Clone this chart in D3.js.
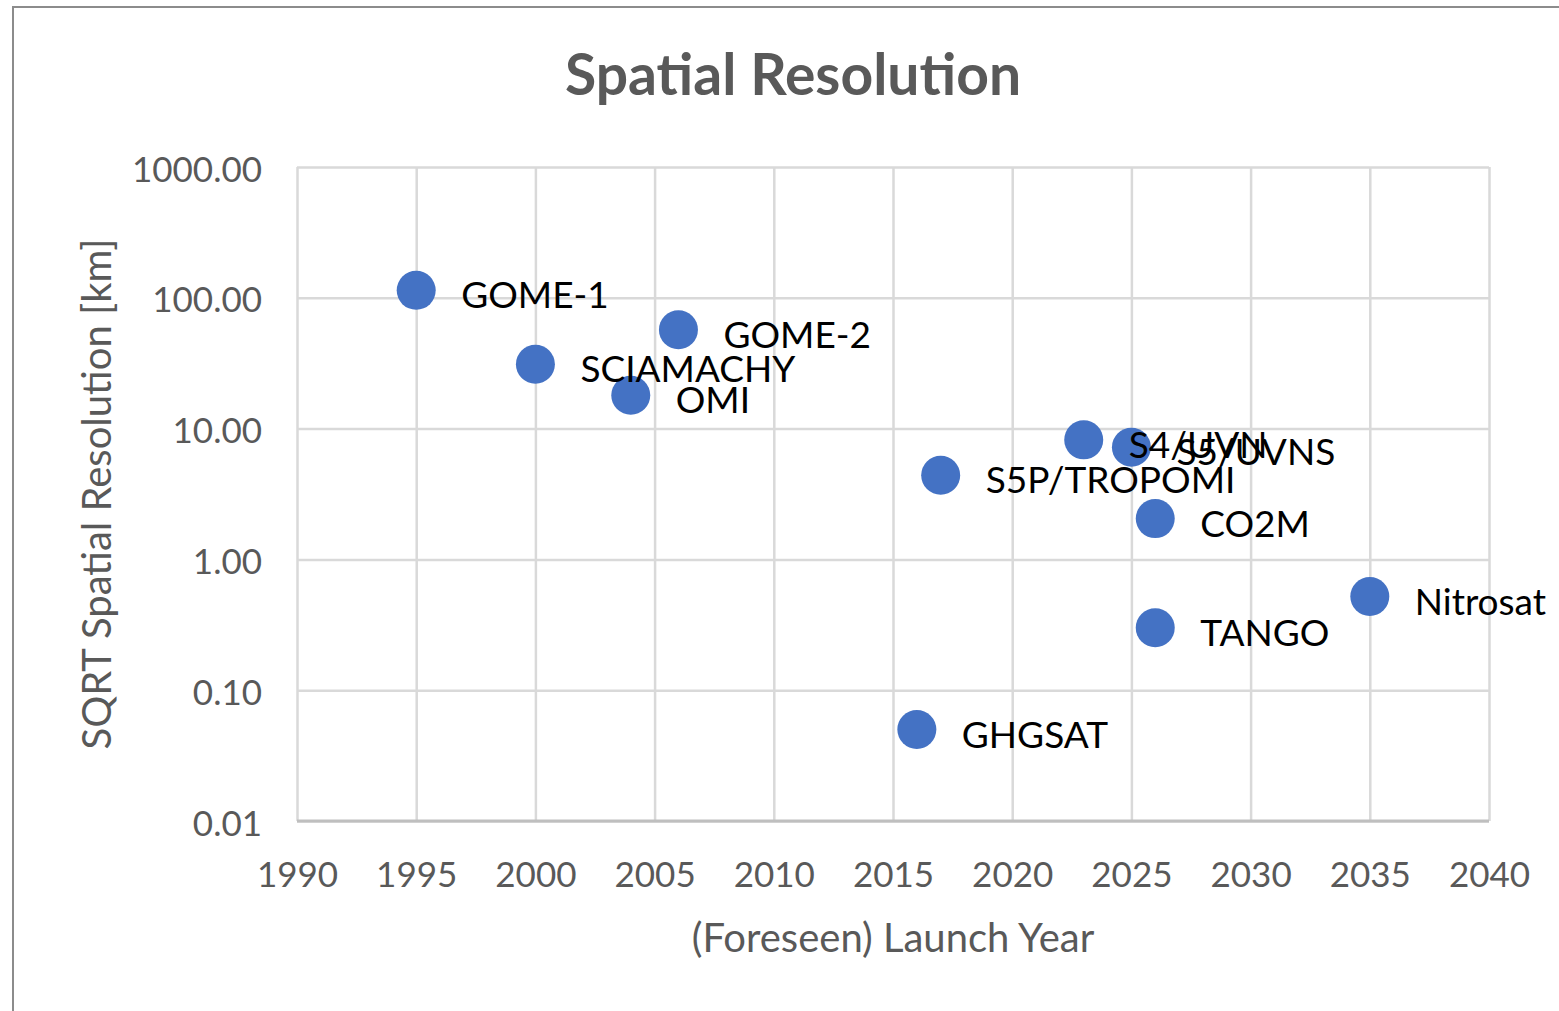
<!DOCTYPE html>
<html>
<head>
<meta charset="utf-8">
<script src="https://cdn.jsdelivr.net/npm/d3@7"></script>
<style>
  body { margin: 0; background: #fff; }
  text { font-family: Lato, 'Open Sans', sans-serif; }
</style>
</head>
<body>
<div id="viz"></div>
<script>
// launch year vs sqrt of pixel area
const missions = ['GOME-1', 'GOME-2', 'SCIAMACHY', 'OMI', 'S4/UVN', 'S5/UVNS', 'S5P/TROPOMI', 'CO2M', 'TANGO', 'Nitrosat', 'GHGSAT'];
const launchYears = [1995, 2006, 2000, 2004, 2023, 2025, 2017, 2026, 2026, 2035, 2016];
const resolutionKm = [114, 57, 31, 18, 8.2, 7.2, 4.4, 2.05, 0.30, 0.52, 0.05];
const yearTicks = [1990, 1995, 2000, 2005, 2010, 2015, 2020, 2025, 2030, 2035, 2040];
const resTicks = [0.01, 0.1, 1, 10, 100, 1000];

const W = 1559, H = 1011;
const margin = {top: 167, right: 70, bottom: 190, left: 297};
const width = W - margin.left - margin.right;
const height = H - margin.top - margin.bottom;

const data = missions.map((m, i) => ({name: m, year: launchYears[i], res: resolutionKm[i]}));

const svg = d3.select('#viz')
  .append('svg')
  .attr('width', W)
  .attr('height', H);

// chart area border (cut off at right and bottom)
svg.append('rect')
  .attr('x', 13).attr('y', 7)
  .attr('width', W + 50).attr('height', H + 50)
  .attr('fill', 'none')
  .attr('stroke', '#8c8c8c')
  .attr('stroke-width', 2);

svg.append('text')
  .attr('x', 793).attr('y', 95)
  .attr('text-anchor', 'middle')
  .style('font-size', '57px')
  .style('font-weight', 'bold')
  .style('fill', '#595959')
  .text('Spatial Resolution');

const g = svg.append('g')
  .attr('transform', `translate(${margin.left},${margin.top})`);

const x = d3.scaleLinear().domain([1990, 2040]).range([0, width]);
const y = d3.scaleLog().domain([0.01, 1000]).range([height, 0]);

// gridlines
g.append('g')
  .call(d3.axisBottom(x).tickValues(yearTicks).tickSize(height).tickFormat(''))
  .call(a => a.select('.domain').remove())
  .selectAll('line')
  .attr('stroke', '#d9d9d9')
  .attr('stroke-width', 2.5);

g.append('g')
  .call(d3.axisLeft(y).tickValues(resTicks).tickSize(-width).tickFormat(''))
  .call(a => a.select('.domain').remove())
  .selectAll('line')
  .attr('stroke', '#d9d9d9')
  .attr('stroke-width', 2.5);

// bottom axis line
g.append('line')
  .attr('x1', 0).attr('x2', width)
  .attr('y1', height).attr('y2', height)
  .attr('stroke', '#bfbfbf')
  .attr('stroke-width', 3);

// tick labels
const xAxis = g.append('g')
  .attr('transform', `translate(0,${height})`)
  .call(d3.axisBottom(x).tickValues(yearTicks).tickSize(0).tickFormat(d3.format('d')));
xAxis.select('.domain').remove();
xAxis.selectAll('text')
  .attr('y', 66)
  .attr('dy', 0)
  .style('font-size', '35px')
  .style('fill', '#595959');

const yAxis = g.append('g')
  .call(d3.axisLeft(y).tickValues(resTicks).tickSize(0).tickFormat(d3.format('.2f')));
yAxis.select('.domain').remove();
yAxis.selectAll('text')
  .attr('x', -35)
  .attr('dy', 14)
  .style('font-size', '35px')
  .style('fill', '#595959');

// axis titles
svg.append('text')
  .attr('x', margin.left + width / 2).attr('y', 952)
  .attr('text-anchor', 'middle')
  .style('font-size', '40px')
  .style('fill', '#595959')
  .text('(Foreseen) Launch Year');

svg.append('text')
  .attr('transform', `translate(111,${margin.top + height / 2}) rotate(-90)`)
  .attr('text-anchor', 'middle')
  .style('font-size', '40px')
  .style('fill', '#595959')
  .text('SQRT Spatial Resolution [km]');

// markers first, labels on top of all of them
g.selectAll('.pt')
  .data(data)
  .join('circle')
  .attr('class', 'pt')
  .attr('cx', d => x(d.year))
  .attr('cy', d => y(d.res))
  .attr('r', 19.5)
  .style('fill', '#4472c4');

g.selectAll('.lbl')
  .data(data)
  .join('text')
  .attr('class', 'lbl')
  .attr('x', d => x(d.year) + 45)
  .attr('y', d => y(d.res) + 18)
  .style('font-size', '37px')
  .style('fill', '#000')
  .text(d => d.name);
</script>
</body>
</html>
